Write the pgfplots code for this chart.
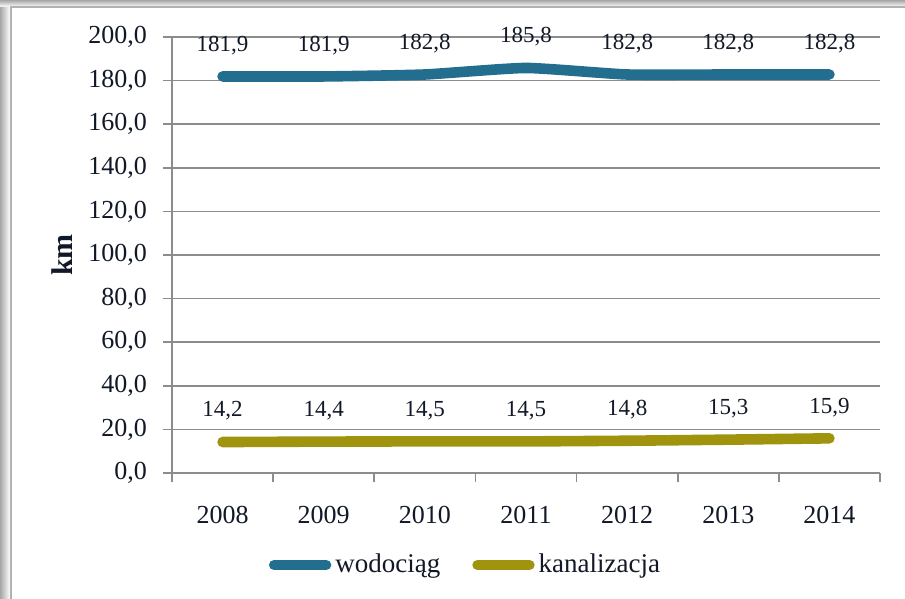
\documentclass[border=0pt]{standalone}
\usepackage{pgfplots}
\pgfplotsset{compat=1.18}
\usepackage{fontspec}
\setmainfont{Liberation Serif}
\definecolor{wod}{HTML}{236E8E}
\definecolor{kan}{HTML}{A0940E}
\definecolor{txt}{HTML}{111827}
\definecolor{gridc}{HTML}{8C8C8C}
\begin{document}
\begin{tikzpicture}[x=1pt,y=1pt]
% frame (px * 0.5pt, axis origin at px (172,473))
\useasboundingbox (-86,-63) rectangle (366.5,236.5);
\shade[left color=gray!70, right color=white] (-86,-63) rectangle (-81,236.5);
\shade[top color=gray!70, bottom color=white] (-86,236.5) rectangle (366.5,233);
\fill[white] (-81,-63) rectangle (366.5,233);
\draw[gray!60, line width=0.6pt] (-80.5,-63) -- (-80.5,233) -- (366.5,233);
\begin{axis}[
  scale only axis,
  width=354pt, height=218pt,
  at={(0,0)}, anchor=south west,
  xmin=-0.5, xmax=6.5, ymin=0, ymax=200,
  axis x line=bottom, axis y line=left,
  axis line style={gridc, -, line width=0.8pt},
  ytick={0,20,...,200},
  ymajorgrids, grid style={gridc, line width=0.8pt},
  xtick={-0.5,0.5,...,6.5}, xticklabels={},
  extra x ticks={0,1,2,3,4,5,6},
  extra x tick labels={2008,2009,2010,2011,2012,2013,2014},
  extra x tick style={major tick length=0pt, xticklabel style={yshift=-13pt}},
  tick align=outside, major tick length=4.5pt,
  tick style={gridc, line width=0.8pt},
  /pgf/number format/assume math mode=true,
  yticklabel={\rmfamily\pgfmathprintnumber[fixed,fixed zerofill,precision=1,use comma]{\tick}},
  yticklabel style={font=\rmfamily\fontsize{13}{15}\selectfont, text=txt, xshift=-4.5pt},
  xticklabel style={font=\rmfamily\fontsize{13}{15}\selectfont, text=txt},
  ylabel={\textbf{km}},
  ylabel style={at={(axis description cs:-0.155,0.5)}, anchor=center, font=\rmfamily\fontsize{15}{17}\selectfont, text=txt},
  nodes near coords={\pgfmathprintnumber[fixed,fixed zerofill,precision=1,use comma]{\pgfplotspointmeta}},
  every node near coord/.append style={font=\rmfamily\fontsize{11.5}{13}\selectfont, text=txt, anchor=center, yshift=15.5pt},
  legend style={at={(0.416,-0.211)}, anchor=center, draw=none, fill=none,
    legend columns=2, font=\rmfamily\fontsize{13.5}{15}\selectfont, text=txt,
    /tikz/every even column/.append style={column sep=14pt}},
  legend image code/.code={\draw[#1, line width=5.2pt, line cap=round] (0pt,0pt) -- (26pt,0pt);},
  clip=false,
]
\addplot[wod, line width=5.3pt, line cap=round, line join=round, smooth, tension=0.3, mark=none]
  coordinates {(0,181.9) (1,181.9) (2,182.8) (3,185.8) (4,182.8) (5,182.8) (6,182.8)};
\addlegendentry{wodociąg}
\addplot[kan, line width=5.3pt, line cap=round, line join=round, smooth, tension=0.3, mark=none]
  coordinates {(0,14.2) (1,14.4) (2,14.5) (3,14.5) (4,14.8) (5,15.3) (6,15.9)};
\addlegendentry{kanalizacja}
\end{axis}
\end{tikzpicture}
\end{document}
